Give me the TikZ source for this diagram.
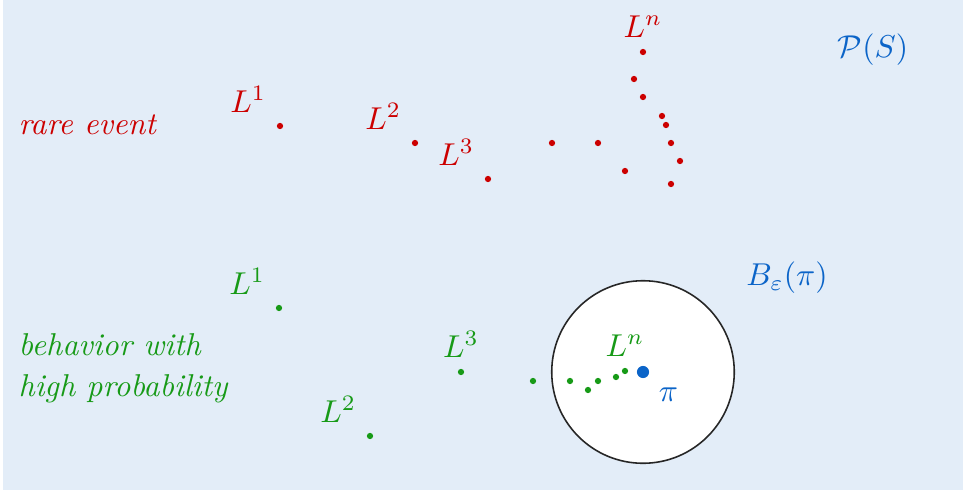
\documentclass[tikz,border=0pt]{standalone}
\usepackage{amsmath,amssymb}
\usepackage{tikz}
\usetikzlibrary{positioning}
\definecolor{cbg}{HTML}{E3EDF8}
\definecolor{crare}{HTML}{CC0000}
\definecolor{ctyp}{HTML}{179A17}
\definecolor{cpi}{HTML}{0B64C8}
\tikzset{
  dot/.style={circle, inner sep=0pt, minimum size=0.7mm},
  rdot/.style={dot, fill=crare},
  gdot/.style={dot, fill=ctyp},
  rlab/.style={text=crare},
  glab/.style={text=ctyp},
  blab/.style={text=cpi},
}

\begin{document}
\begin{tikzpicture}[x=0.1112mm, y=-0.1112mm]
\useasboundingbox (0,0) rectangle (963,492);
\fill[cbg] (3,0) rectangle (963,490);
% rare event
\node[rlab, anchor=base west, inner sep=0pt] (rare) at (18,134) {\textit{rare event}};
\node[rdot, label={[rlab]above left:$L^1$}] (r1) at (280,126) {};
\node[rdot, label={[rlab]above left:$L^2$}] (r2) at (415,143) {};
\node[rdot, label={[rlab]above left:$L^3$}] (r3) at (488,179) {};
\foreach \x/\y [count=\i] in {552/143, 598/143, 625/171, 634/79, 643/97, 662/116, 666/125, 671/143, 680/161, 671/184}
  \node[rdot] (rx\i) at (\x,\y) {};
\node[rdot, label={[rlab]above:$L^n$}] (rn) at (643,52) {};
\node[blab] (ps) at (873,50) {$\mathcal{P}(S)$};
% typical behaviour
\node[circle, draw=black!85, line width=0.5pt, fill=white, inner sep=0pt, minimum size=20.3mm] (ball) at (643,372) {};
\node[blab] (bl) at (787,278) {$B_\varepsilon(\pi)$};
\node[glab, anchor=west, align=left, inner sep=0pt] (typ) at (18,368) {\textit{behavior with}\\[1pt]\textit{high probability}};
\node[gdot, label={[glab]above left:$L^1$}] (g1) at (279,308) {};
\node[gdot, label={[glab]above left:$L^2$}] (g2) at (370,436) {};
\node[gdot, label={[glab]above:$L^3$}] (g3) at (461,372) {};
\foreach \x/\y [count=\i] in {533/381, 570/381, 588/390, 598/381, 616/377}
  \node[gdot] (gx\i) at (\x,\y) {};
\node[gdot, label={[glab]above:$L^n$}] (gn) at (625,371) {};
\node[circle, fill=cpi, inner sep=0pt, minimum size=1.35mm, label={[blab]below right:$\pi$}] (pi) at (ball) {};
\end{tikzpicture}
\end{document}
